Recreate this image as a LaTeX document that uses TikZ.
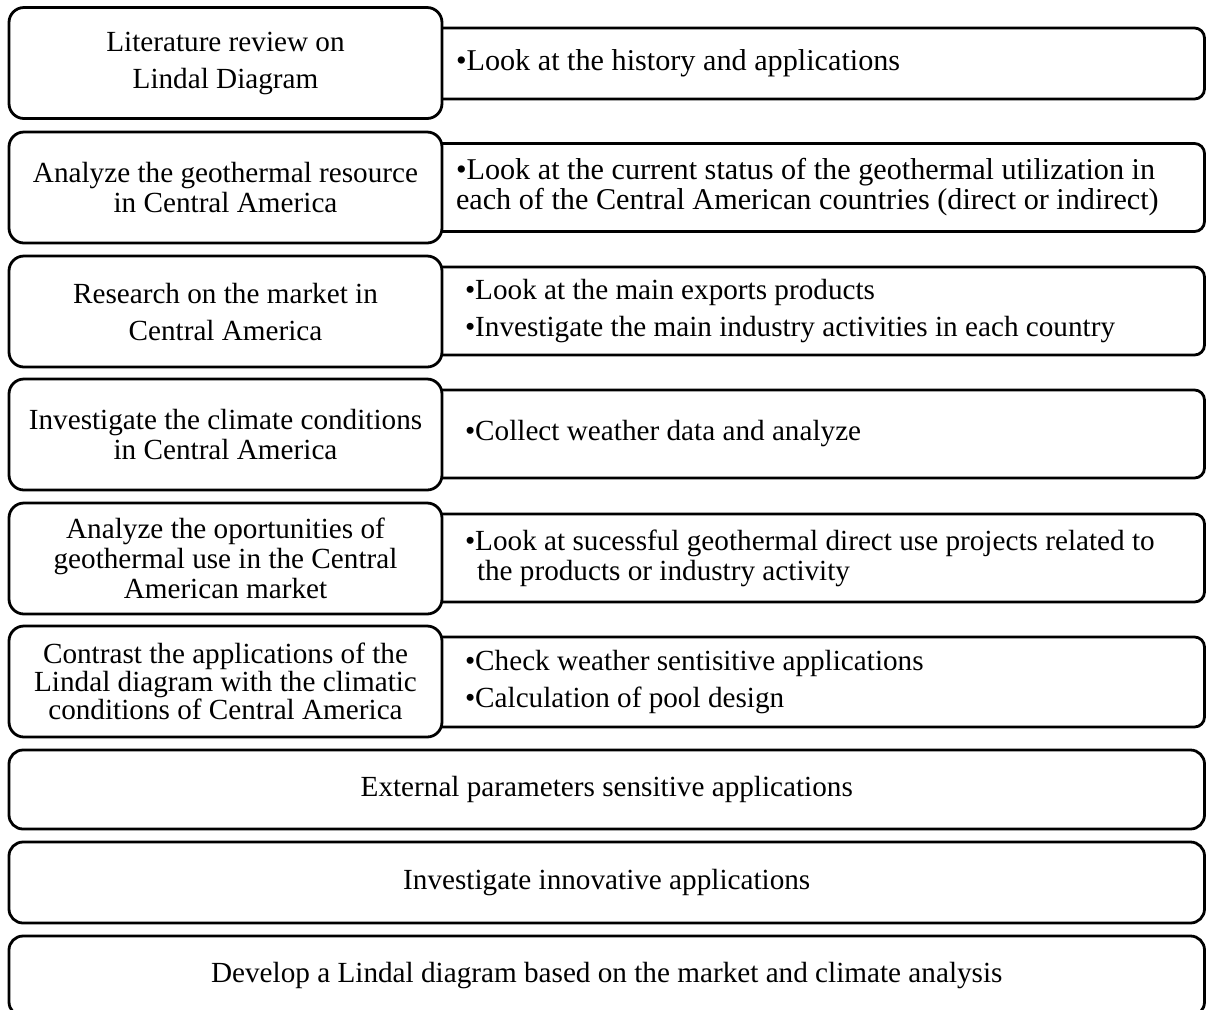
\documentclass[tikz,border=0pt]{standalone}
\usepackage{fontspec}
\setmainfont{Liberation Serif}
\begin{document}
\begin{tikzpicture}[x=0.5pt,y=-0.5pt,line width=1.4pt,font=\fontsize{14.6}{15}\selectfont,
    leftbox/.style={draw,fill=white,rounded corners=7.5pt,minimum width=216.5pt,minimum height=55.5pt,text width=212pt,align=flush center,inner sep=0pt},
    rightbox/.style={draw,fill=white,rounded corners=5pt,minimum width=387.25pt,minimum height=44pt,text width=352.25pt,align=flush left,inner sep=0pt},
    bigtext/.style={font=\fontsize{15.1}{15}\selectfont},
    widebox/.style={draw,fill=white,rounded corners=7pt,minimum width=597.75pt,minimum height=40pt,align=center,inner sep=0pt}]

      \useasboundingbox (0,0) rectangle (1206,1009);
      \clip (0,0) rectangle (1206,1009);

      % details on the right (left ends hidden behind the steps)
      \node[rightbox,bigtext,minimum height=35.5pt] (history) at (817.25,63.5) {\hspace*{-4.5pt}•Look at the history and applications};
      \node[rightbox,bigtext] (status) at (817.25,187.5) {\hspace*{-4.5pt}•Look at the current status of the geothermal utilization in\\\hspace*{-4.5pt}each of the Central American countries (direct or indirect)};
      \node[rightbox] (exports) at (817.25,311) {•Look at the main exports products\\[3.5pt]•Investigate the main industry activities in each country};
      \node[rightbox] (weather) at (817.25,434) {•Collect weather data and analyze};
      \node[rightbox] (projects) at (817.25,558) {•Look at sucessful geothermal direct use projects related to\\\hspace*{6pt}the products or industry activity};
      \node[rightbox,minimum height=45pt] (pool) at (817.25,682) {•Check weather sentisitive applications\\[3.5pt]•Calculation of pool design};

      % steps on the left
      \node[leftbox] (review) at (225.5,63) {Literature review on\\[3.5pt]Lindal Diagram};
      \node[leftbox] (resource) at (225.5,187.5) {Analyze the geothermal resource\\in Central America};
      \node[leftbox] (market) at (225.5,311.5) {Research on the market in\\[3.5pt]Central America};
      \node[leftbox] (climate) at (225.5,434.5) {Investigate the climate conditions\\in Central America};
      \node[leftbox] (chances) at (225.5,558.5) {Analyze the oportunities of\\geothermal use in the Central\\American market};
      \node[leftbox] (contrast) at (225.5,681.5) {Contrast the applications of the\\[-1pt]Lindal diagram with the climatic\\[-1pt]conditions of Central America};

      % full width steps
      \node[widebox,minimum height=39.5pt] (external) at (606.75,789.5) {External parameters sensitive applications};
      \node[widebox,minimum height=40.5pt] (innovative) at (606.75,882.5) {Investigate innovative applications};
      \node[widebox] (develop) at (606.75,976) {Develop a Lindal diagram based on the market and climate analysis};
  \end{tikzpicture}
\end{document}
